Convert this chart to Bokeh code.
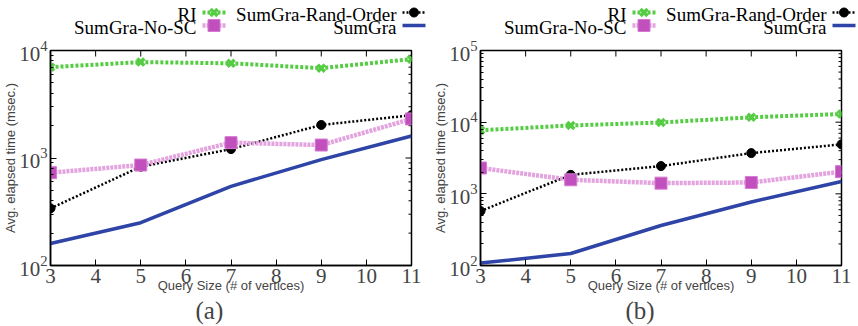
import math
from bokeh.plotting import figure
from bokeh.layouts import row, column
from bokeh.models import FixedTicker, Title
from bokeh.core.properties import value
from bokeh.embed import file_html
from bokeh.resources import INLINE

x_vals = [3, 5, 7, 9, 11]
x_ticks = [3, 4, 5, 6, 7, 8, 9, 10, 11]

a_ri = [7000, 7800, 7600, 6850, 8300]
a_rand = [340, 830, 1210, 2030, 2500]
a_nosc = [730, 860, 1390, 1320, 2310]
a_sumgra = [160, 250, 545, 965, 1600]

b_ri = [7700, 9000, 9900, 11700, 13000]
b_rand = [575, 1840, 2440, 3700, 4900]
b_nosc = [2290, 1570, 1410, 1440, 2040]
b_sumgra = [108, 147, 362, 770, 1490]

series_names = ["RI", "SumGra-Rand-Order", "SumGra-No-SC", "SumGra"]
captions = ["(a)", "(b)"]

SERIF = "Liberation Serif"
SANS = "Liberation Sans"
GREEN = "#55cc44"
PINK_LINE = "#e3a3df"
PINK_MARK = "#c24fbe"
BLUE = "#2e44a6"

STYLES = [
    dict(line=dict(line_color=GREEN, line_width=4, line_dash="3 2"),
         mark=dict(marker="x", size=10, line_color=GREEN, line_width=3.5)),
    dict(line=dict(line_color="black", line_width=2.5, line_dash="2 2"),
         mark=dict(marker="circle", size=9, fill_color="black", line_color="black")),
    dict(line=dict(line_color=PINK_LINE, line_width=4.5, line_dash="3 1"),
         mark=dict(marker="square", size=12, fill_color=PINK_MARK,
                   line_color="#d47ad0", line_width=1)),
    dict(line=dict(line_color=BLUE, line_width=3.5), mark=None),
]

TOTAL_H = 326
KEY_H = 36
PANEL_H = TOTAL_H - KEY_H
BL = 49
BORDER_TOP = 14
BORDER_BOTTOM = 61


def style_axis(ax):
    ax.major_tick_in = 6
    ax.major_tick_out = 0
    ax.minor_tick_in = 3
    ax.minor_tick_out = 0
    ax.axis_line_color = "black"
    ax.axis_line_width = 1.5
    ax.major_tick_line_width = 1
    ax.major_label_text_font = SERIF
    ax.major_label_text_font_size = "21px"
    ax.major_label_standoff = 3
    ax.axis_label_text_font = SANS
    ax.axis_label_text_font_size = "13px"
    ax.axis_label_text_font_style = "normal"


def make_key(w):
    """gnuplot-style key strip above a panel: text right-aligned, sample after it."""
    k = figure(width=w, height=KEY_H, x_range=(0, w), y_range=(0, KEY_H),
               output_backend="svg", toolbar_location=None, min_border=0)
    k.axis.visible = False
    k.grid.visible = False
    k.outline_line_color = None
    text_right = [196, 396, 196, 396]
    baselines = [22.5, 22.5, 9.5, 9.5]
    for name, st, tx, ty in zip(series_names, STYLES, text_right, baselines):
        k.text(x=[tx], y=[ty], text=[name], text_align="right",
               text_baseline="alphabetic", text_font=value(SERIF),
               text_font_size="19px", text_color="black")
        sy = ty + 1.5
        k.line(x=[tx + 6, tx + 29], y=[sy, sy], **st["line"])
        if st["mark"]:
            k.scatter(x=[tx + 17.5], y=[sy], **st["mark"])
    return k


def make_panel(data, ymax, caption, w, br):
    p = figure(width=w, height=PANEL_H, x_range=(3, 11),
               y_range=(100, ymax), y_axis_type="log", output_backend="svg",
               toolbar_location=None, min_border_left=BL, min_border_right=br,
               min_border_top=BORDER_TOP, min_border_bottom=BORDER_BOTTOM)
    p.outline_line_color = "black"
    p.outline_line_width = 1.5
    p.xgrid.visible = False
    p.ygrid.visible = False

    p.xaxis.ticker = FixedTicker(ticks=x_ticks)
    p.xaxis.minor_tick_line_color = None
    style_axis(p.xaxis[0])
    style_axis(p.yaxis[0])
    p.yaxis.axis_label = "Avg. elapsed time (msec.)"
    p.xaxis.axis_label = "Query Size (# of vertices)"
    p.yaxis.axis_label_standoff = -2
    p.xaxis.axis_label_standoff = -8

    # mirrored inward ticks on top and right edges
    top_dec = int(round(math.log10(ymax)))
    major_y = [10 ** d for d in range(2, top_dec + 1)]
    minor_y = [m * 10 ** d for d in range(2, top_dec) for m in range(2, 10)]
    p.ray(x=x_ticks, y=[ymax] * len(x_ticks), length=6, length_units="screen",
          angle=-math.pi / 2, line_color="black", line_width=1)
    p.ray(x=[11] * len(major_y), y=major_y, length=6, length_units="screen",
          angle=math.pi, line_color="black", line_width=1)
    p.ray(x=[11] * len(minor_y), y=minor_y, length=3, length_units="screen",
          angle=math.pi, line_color="black", line_width=1)

    for ys, st in zip(data, STYLES):
        p.line(x_vals, ys, **st["line"])
        if st["mark"]:
            p.scatter(x_vals, ys, **st["mark"])

    p.add_layout(Title(text=caption, align="left", offset=145, standoff=-2,
                       text_font=SERIF, text_font_size="25px",
                       text_font_style="normal"), "below")
    return p


W1, W2 = 430, 428
p1 = make_panel([a_ri, a_rand, a_nosc, a_sumgra], 10000, captions[0], W1, 19)
p2 = make_panel([b_ri, b_rand, b_nosc, b_sumgra], 100000, captions[1], W2, 17)
k1 = make_key(W1)
k2 = make_key(W2)
layout = column(row(k1, k2), row(p1, p2))

open("out.html", "w").write(file_html(layout, INLINE))
